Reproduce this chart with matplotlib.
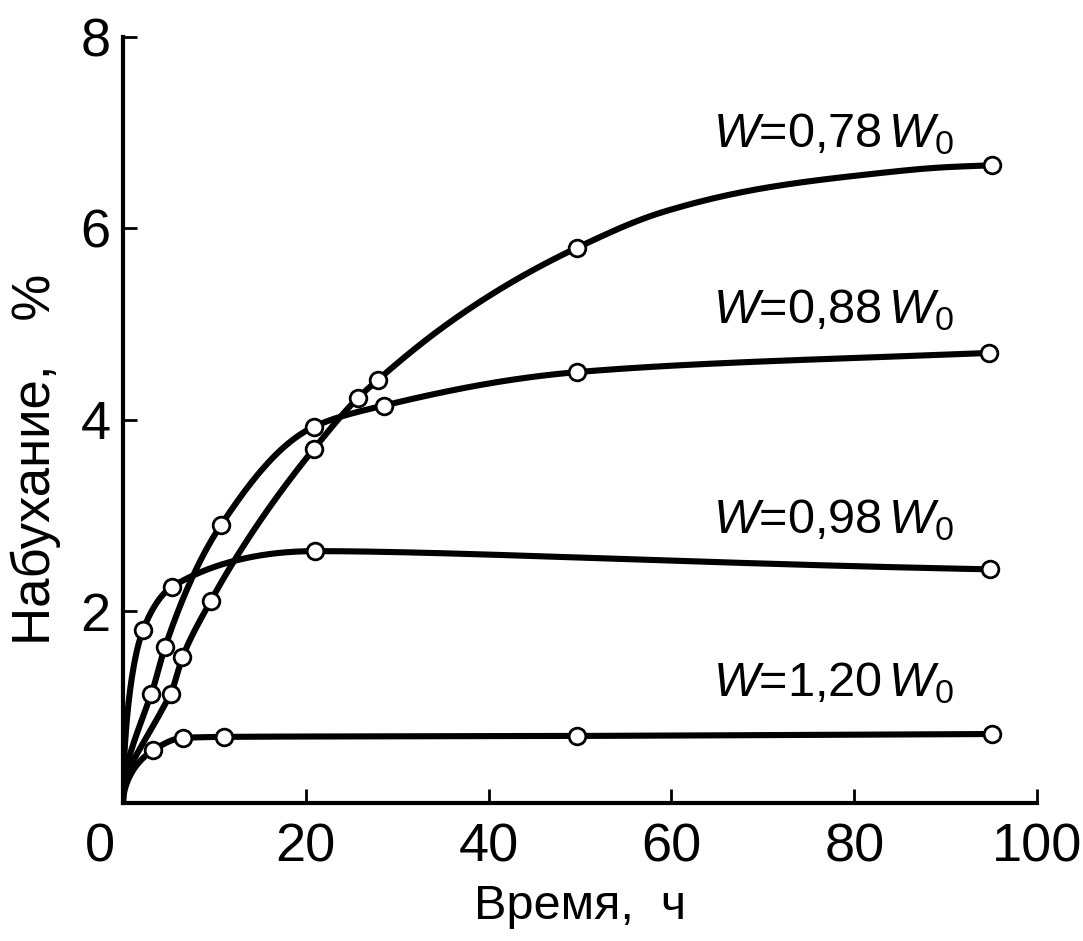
import numpy as np
import matplotlib
matplotlib.use("Agg")
import matplotlib.pyplot as plt
import matplotlib.transforms as mtransforms

plt.rcParams["font.family"] = ["Liberation Sans", "DejaVu Sans"]
plt.rcParams["mathtext.fontset"] = "custom"
plt.rcParams["mathtext.rm"] = "Liberation Sans"
plt.rcParams["mathtext.it"] = "Liberation Sans:italic"

t_078 = [5.2, 6.5, 9.6, 20.9, 25.7, 27.9, 49.7, 95.1]
s_078 = [1.14, 1.52, 2.11, 3.70, 4.23, 4.42, 5.80, 6.66]

t_088 = [3.1, 4.6, 10.7, 20.9, 28.5, 49.7, 94.7]
s_088 = [1.14, 1.63, 2.90, 3.93, 4.15, 4.50, 4.70]

t_098 = [2.2, 5.4, 21.0, 94.8]
s_098 = [1.81, 2.26, 2.63, 2.44]

t_120 = [3.3, 6.6, 11.1, 49.7, 95.1]
s_120 = [0.55, 0.68, 0.69, 0.70, 0.72]

# extra spots (no markers there)
trace_t_078 = [35.6, 42.9, 59.0, 70.0, 81.0, 90.0]
trace_s_078 = [5.01, 5.46, 6.17, 6.42, 6.56, 6.64]

labels = ["$W$=0,78$\\,W_0$", "$W$=0,88$\\,W_0$", "$W$=0,98$\\,W_0$", "$W$=1,20$\\,W_0$"]
label_x = [64.5, 64.5, 64.5, 64.5]
label_y = [6.85, 5.01, 2.82, 1.11]


def pchip(x, y, xn):
    # monotone cubic (Fritsch-Carlson)
    x = np.asarray(x, float)
    y = np.asarray(y, float)
    h = np.diff(x)
    d = np.diff(y) / h
    m = np.zeros_like(x)
    m[0] = d[0]
    m[-1] = d[-1]
    for i in range(1, len(x) - 1):
        if d[i - 1] * d[i] > 0:
            w1 = 2 * h[i] + h[i - 1]
            w2 = h[i] + 2 * h[i - 1]
            m[i] = (w1 + w2) / (w1 / d[i - 1] + w2 / d[i])
    idx = np.clip(np.searchsorted(x, xn) - 1, 0, len(x) - 2)
    hh = h[idx]
    tt = (xn - x[idx]) / hh
    h00 = 2 * tt**3 - 3 * tt**2 + 1
    h10 = tt**3 - 2 * tt**2 + tt
    h01 = -2 * tt**3 + 3 * tt**2
    h11 = tt**3 - tt**2
    return h00 * y[idx] + h10 * hh * m[idx] + h01 * y[idx + 1] + h11 * hh * m[idx + 1]


fig = plt.figure(figsize=(10.83, 9.41), dpi=100)
ax = fig.add_axes([0.1136, 0.1467, 0.8440, 0.814])

series = [
    (t_078, s_078, trace_t_078, trace_s_078),
    (t_088, s_088, [], []),
    (t_098, s_098, [], []),
    (t_120, s_120, [], []),
]
for t, s, tt, ss in series:
    order = np.argsort(t + tt)
    lt = np.array([0.0] + list(np.array(t + tt)[order]))
    ls = np.array([0.0] + list(np.array(s + ss)[order]))
    # smooth curve from the origin, drawn in sqrt(t) so it rises steeply at start
    r = np.sqrt(lt)
    rn = np.linspace(0, r[-1], 500)
    ax.plot(rn**2, pchip(r, ls, rn), color="black", lw=4.4,
            solid_capstyle="round", zorder=2)
    ax.plot(t, s, "o", ms=12, mfc="white", mec="black", mew=2, zorder=3)

for txt, x, y in zip(labels, label_x, label_y):
    ax.text(x, y, txt, fontsize=35, va="baseline", ha="left")

ax.set_xlim(0, 100)
ax.set_ylim(0, 8)
ax.set_xticks([0, 20, 40, 60, 80, 100])
ax.set_yticks([2, 4, 6, 8])
ax.tick_params(direction="in", length=10, width=2, labelsize=39)
ax.tick_params(axis="x", pad=14)
ax.tick_params(axis="y", pad=9)
for side in ["top", "right"]:
    ax.spines[side].set_visible(False)
for side in ["left", "bottom"]:
    ax.spines[side].set_linewidth(3)

# shift the "0" tick label off the y axis
lbl0 = ax.get_xticklabels()[0]
lbl0.set_transform(lbl0.get_transform() + mtransforms.ScaledTranslation(-23 / 100, 0, fig.dpi_scale_trans))

ax.set_xlabel("Время,  ч", fontsize=35, labelpad=8)
ax.set_ylabel("Набухание,   %", fontsize=38)
ax.yaxis.set_label_coords(-0.068, 0.448)

fig.savefig("out.png", dpi=100)
